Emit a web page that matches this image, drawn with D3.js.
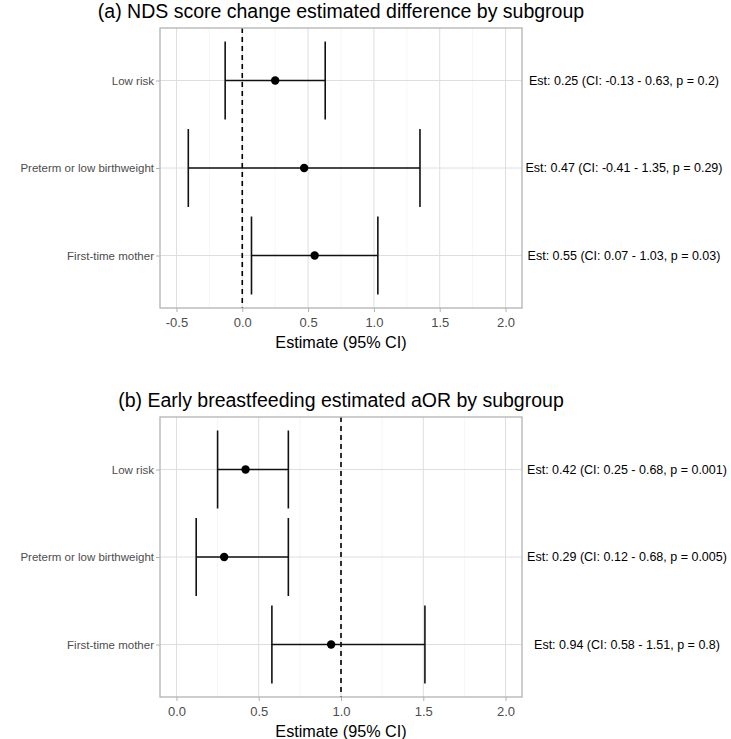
<!DOCTYPE html>
<html>
<head>
<meta charset="utf-8">
<script src="https://cdn.jsdelivr.net/npm/d3@7"></script>
<style>
  body { margin: 0; background: #fff; }
  text { font-family: "Liberation Sans", Arial, Helvetica, sans-serif; }
</style>
</head>
<body>
<div id="chart"></div>
<script>
// subgroups, top to bottom
var subgroups = ["Low risk", "Preterm or low birthweight", "First-time mother"];

// (a) NDS score change
var ndsEst = [0.25, 0.47, 0.55];
var ndsLow = [-0.13, -0.41, 0.07];
var ndsHigh = [0.63, 1.35, 1.03];
var ndsP = ["0.2", "0.29", "0.03"];
var ndsTicks = [-0.5, 0, 0.5, 1, 1.5, 2];

// (b) early breastfeeding aOR
var bfEst = [0.42, 0.29, 0.94];
var bfLow = [0.25, 0.12, 0.58];
var bfHigh = [0.68, 0.68, 1.51];
var bfP = ["0.001", "0.005", "0.8"];
var bfTicks = [0, 0.5, 1, 1.5, 2];

var svg = d3.select("#chart")
    .append("svg")
    .attr("width", 731)
    .attr("height", 739);

function drawPanel(opts) {
    var left = 160, right = 522;
    var top = opts.top, bottom = opts.top + 280;

    var span = opts.max - opts.min;
    var x = d3.scaleLinear()
        .domain([opts.min - span * 0.05, opts.max + span * 0.05])
        .range([left, right]);

    var y = d3.scalePoint()
        .domain(subgroups)
        .range([top, bottom])
        .padding(0.6);

    var g = svg.append("g");

    // title
    g.append("text")
        .attr("x", (left + right) / 2)
        .attr("y", top - 10)
        .attr("text-anchor", "middle")
        .attr("font-size", "19.5px")
        .attr("fill", "#000")
        .text(opts.title);

    // minor grid
    var minor = [];
    for (var i = 0; i < opts.ticks.length - 1; i++) {
        minor.push((opts.ticks[i] + opts.ticks[i + 1]) / 2);
    }
    g.selectAll(".minor")
        .data(minor)
        .enter()
        .append("line")
        .attr("x1", d => x(d)).attr("x2", d => x(d))
        .attr("y1", top).attr("y2", bottom)
        .attr("stroke", "#f0f0f0")
        .attr("stroke-width", 0.6);

    // major grid
    g.selectAll(".major")
        .data(opts.ticks)
        .enter()
        .append("line")
        .attr("x1", d => x(d)).attr("x2", d => x(d))
        .attr("y1", top).attr("y2", bottom)
        .attr("stroke", "#dedede")
        .attr("stroke-width", 1);

    g.selectAll(".hgrid")
        .data(subgroups)
        .enter()
        .append("line")
        .attr("x1", left).attr("x2", right)
        .attr("y1", d => y(d)).attr("y2", d => y(d))
        .attr("stroke", "#dedede")
        .attr("stroke-width", 1);

    // reference line
    g.append("line")
        .attr("x1", x(opts.ref)).attr("x2", x(opts.ref))
        .attr("y1", top).attr("y2", bottom)
        .attr("stroke", "#000")
        .attr("stroke-width", 1.6)
        .attr("stroke-dasharray", "5,4");

    var rows = subgroups.map(function(s, i) {
        return { name: s, est: opts.est[i], lo: opts.lo[i], hi: opts.hi[i], p: opts.p[i] };
    });

    var cap = 39;
    // error bars
    g.selectAll(".bar")
        .data(rows)
        .enter()
        .append("line")
        .attr("x1", d => x(d.lo)).attr("x2", d => x(d.hi))
        .attr("y1", d => y(d.name)).attr("y2", d => y(d.name))
        .attr("stroke", "#111").attr("stroke-width", 1.6);
    g.selectAll(".capL")
        .data(rows)
        .enter()
        .append("line")
        .attr("x1", d => x(d.lo)).attr("x2", d => x(d.lo))
        .attr("y1", d => y(d.name) - cap).attr("y2", d => y(d.name) + cap)
        .attr("stroke", "#111").attr("stroke-width", 1.6);
    g.selectAll(".capR")
        .data(rows)
        .enter()
        .append("line")
        .attr("x1", d => x(d.hi)).attr("x2", d => x(d.hi))
        .attr("y1", d => y(d.name) - cap).attr("y2", d => y(d.name) + cap)
        .attr("stroke", "#111").attr("stroke-width", 1.6);

    g.selectAll(".pt")
        .data(rows)
        .enter()
        .append("circle")
        .attr("cx", d => x(d.est))
        .attr("cy", d => y(d.name))
        .attr("r", 4.2)
        .attr("fill", "#000");

    // panel border
    g.append("rect")
        .attr("x", left).attr("y", top)
        .attr("width", right - left).attr("height", bottom - top)
        .attr("fill", "none")
        .attr("stroke", "#b3b3b3")
        .attr("stroke-width", 1.3);

    // axes
    var xAxis = d3.axisBottom(x)
        .tickValues(opts.ticks)
        .tickFormat(d3.format(".1f"))
        .tickSize(4);
    var xg = g.append("g")
        .attr("transform", `translate(0, ${bottom})`)
        .call(xAxis);
    xg.select(".domain").remove();
    xg.selectAll("line").attr("stroke", "#b3b3b3");
    xg.selectAll("text")
        .attr("font-size", "13px")
        .attr("fill", "#4d4d4d")
        .attr("dy", "0.9em")
        .text(d => d3.format(".1f")(d).replace("\u2212", "-"));

    var yAxis = d3.axisLeft(y).tickSize(4);
    var yg = g.append("g")
        .attr("transform", `translate(${left}, 0)`)
        .call(yAxis);
    yg.select(".domain").remove();
    yg.selectAll("line").attr("stroke", "#b3b3b3");
    yg.selectAll("text")
        .attr("font-size", "11.5px")
        .attr("fill", "#4d4d4d")
        .attr("x", -6);

    g.append("text")
        .attr("x", (left + right) / 2)
        .attr("y", bottom + 40)
        .attr("text-anchor", "middle")
        .attr("font-size", "16.2px")
        .attr("fill", "#000")
        .text("Estimate (95% CI)");

    // estimate labels on the right
    g.selectAll(".lab")
        .data(rows)
        .enter()
        .append("text")
        .attr("x", opts.labelX)
        .attr("y", d => y(d.name))
        .attr("dy", "0.35em")
        .attr("text-anchor", "middle")
        .attr("font-size", "12.5px")
        .attr("fill", "#000")
        .text(d => `Est: ${d.est.toFixed(2)} (CI: ${d.lo.toFixed(2)} - ${d.hi.toFixed(2)}, p = ${d.p})`);
}

drawPanel({
    title: "(a) NDS score change estimated difference by subgroup",
    top: 28, min: -0.5, max: 2, ticks: ndsTicks, ref: 0,
    est: ndsEst, lo: ndsLow, hi: ndsHigh, p: ndsP, labelX: 624
});

drawPanel({
    title: "(b) Early breastfeeding estimated aOR by subgroup",
    top: 417, min: 0, max: 2, ticks: bfTicks, ref: 1,
    est: bfEst, lo: bfLow, hi: bfHigh, p: bfP, labelX: 627
});
</script>
</body>
</html>
